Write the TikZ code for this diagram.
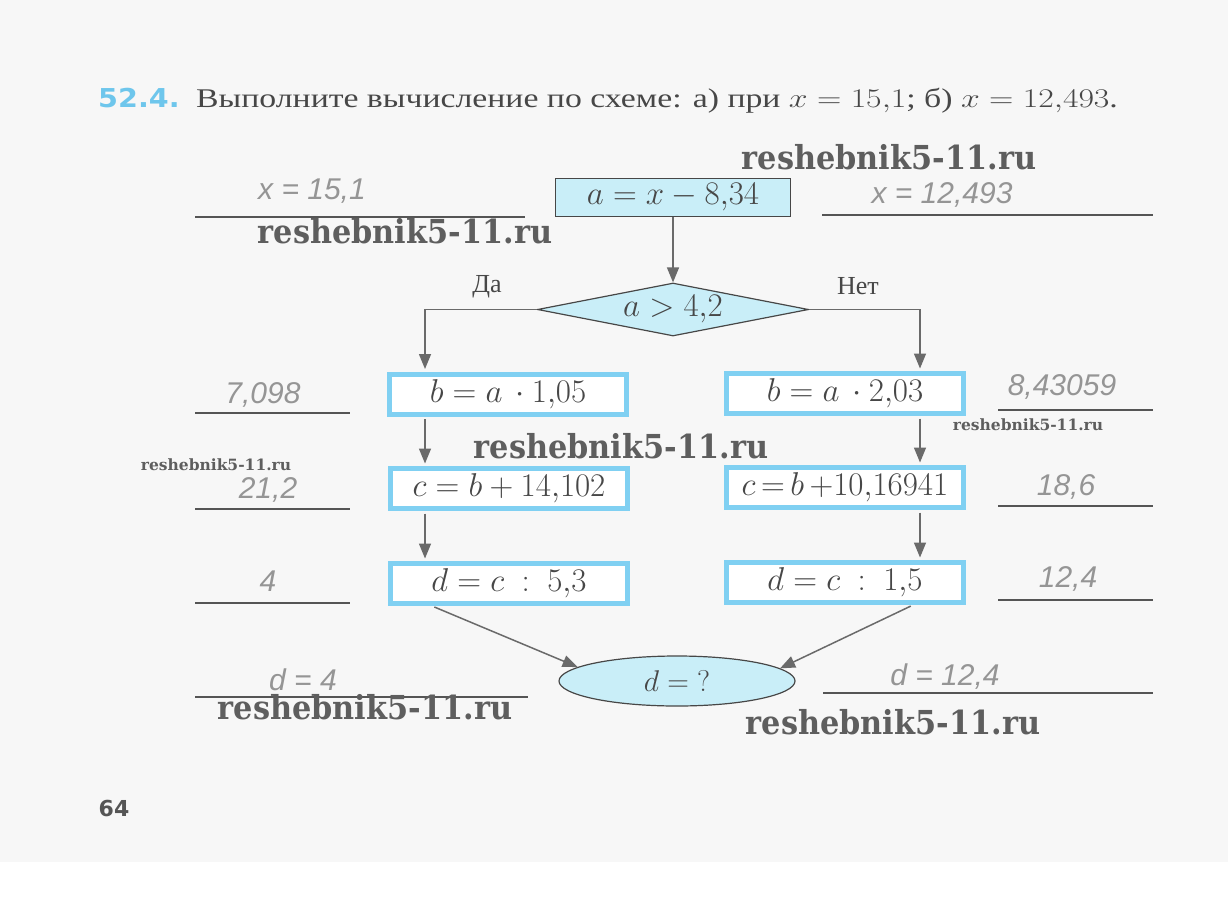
\RequirePackage{fix-cm}
\documentclass[tikz,border=0pt]{standalone}
\usepackage{graphicx}
\usepackage[no-math]{fontspec}
\setmainfont{Liberation Serif}
\newfontfamily\handfont{Liberation Sans}
\newfontfamily\sansbold{DejaVu Sans}
\newfontfamily\wmfont{DejaVu Serif}
\usetikzlibrary{shapes.geometric,arrows.meta,calc}
\definecolor{pagebg}{HTML}{F7F7F7}
\definecolor{cyanfill}{HTML}{C9EEF8}
\definecolor{boxblue}{HTML}{80D0F2}
\definecolor{ink}{HTML}{474747}
\definecolor{arrowgray}{HTML}{6A6A6A}
\definecolor{handgray}{HTML}{959595}
\definecolor{marker}{HTML}{6EC6EC}
\definecolor{wmgray}{HTML}{5E5E5E}
\definecolor{linegray}{HTML}{555555}
\begin{document}
\begin{tikzpicture}[x=1pt,y=-1pt,
  formula/.style={font=\fontsize{33}{36}\selectfont, text=ink},
  topbox/.style={draw=ink, line width=1.2pt, fill=cyanfill, minimum width=235pt, minimum height=38pt, inner sep=0pt, formula},
  calcbox/.style={draw=boxblue, line width=5pt, fill=white, minimum width=237pt, minimum height=40pt, inner sep=0pt, formula},
  decision/.style={draw=ink, line width=1.2pt, fill=cyanfill, diamond, aspect=5.1, minimum width=271pt, minimum height=53pt, inner sep=0pt, formula},
  result/.style={draw=ink, line width=1.2pt, fill=cyanfill, ellipse, minimum width=236pt, minimum height=50pt, inner sep=0pt, font=\fontsize{30}{32}\selectfont, text=ink},
  arr/.style={draw=arrowgray, line width=1.5pt, -{Triangle[length=15pt,width=12pt]}},
  ansline/.style={draw=linegray, line width=1.1pt},
  hand/.style={font=\handfont\itshape\fontsize{30}{32}\selectfont, text=handgray, inner sep=0pt},
  label/.style={font=\fontsize{26}{30}\selectfont, text=ink, inner sep=0pt},
  wmbig/.style={font=\wmfont\bfseries\fontsize{33}{35}\selectfont, text=wmgray, inner sep=0pt},
  wmsmall/.style={font=\wmfont\bfseries\fontsize{15.5}{17}\selectfont, text=wmgray, inner sep=0pt}
]
\useasboundingbox (0,0) rectangle (1228,897);
\fill[pagebg] (0,0) rectangle (1228,862);
\fill[white] (0,862) rectangle (1228,897);

% title
\node[anchor=base west, inner sep=0pt, font=\sansbold\bfseries\fontsize{26}{28}\selectfont, text=marker] (num) at (98,107) {\scalebox{1.1}[1]{52.4.}};
\node[anchor=base west, inner sep=0pt, font=\fontsize{27}{30}\selectfont, text=ink] (title) at (196,107)
  {\scalebox{1.25}[1]{Выполните вычисление по схеме: а) при $x = 15{,}1$; б) $x = 12{,}493$.}};

% flowchart
\node[topbox] (a) at (673,197.5) {$a = x - 8{,}34$};
\node[decision] (dia) at (673,309.5) {$a > 4{,}2$};
\node[calcbox] (b1) at (508,394) {$b = a\,\cdot 1{,}05$};
\node[calcbox] (b2) at (845,393.5) {$b = a\,\cdot 2{,}03$};
\node[calcbox] (c1) at (509,488.5) {$c = b + 14{,}102$};
\node[calcbox] (c2) at (845,487.5) {$c\,{=}\,b\,{+}10{,}16941$};
\node[calcbox] (d1) at (509,583.5) {$d = c\ :\ 5{,}3$};
\node[calcbox] (d2) at (845,582.5) {$d = c\ :\ 1{,}5$};
\node[result] (res) at (677,681) {$d = {?}$};

\node[label] (yes) at (487,287) {Да};
\node[label] (no) at (858,286) {Нет};

\draw[arr] (a.south) -- (dia.north);
\draw[arr, shorten >=2.5pt] (dia.west) -| ($(b1.north)+(-83,0)$);
\draw[arr, shorten >=2.5pt] (dia.east) -| ($(b2.north)+(75,0)$);
\draw[arr, shorten <=2.5pt, shorten >=2.5pt] ($(b1.south)+(-83,0)$) -- ($(c1.north)+(-84,0)$);
\draw[arr, shorten <=2.5pt, shorten >=2.5pt] ($(b2.south)+(75,0)$) -- ($(c2.north)+(75,0)$);
\draw[arr, shorten <=2.5pt, shorten >=2.5pt] ($(c1.south)+(-84,0)$) -- ($(d1.north)+(-84,0)$);
\draw[arr, shorten <=2.5pt, shorten >=2.5pt] ($(c2.south)+(75,0)$) -- ($(d2.north)+(75,0)$);
\draw[arr, shorten <=2.5pt] ($(d1.south)+(-77,0)$) -- (res.172);
\draw[arr, shorten <=2.5pt] ($(d2.south)+(68,0)$) -- (res.7);

% answer lines
\draw[ansline] (195,217) -- (525,217);
\draw[ansline] (822,215) -- (1153,215);
\draw[ansline] (195,413) -- (350,413);
\draw[ansline] (195,509) -- (350,509);
\draw[ansline] (195,603) -- (350,603);
\draw[ansline] (195,697) -- (528,697);
\draw[ansline] (998,410) -- (1153,410);
\draw[ansline] (998,506) -- (1153,506);
\draw[ansline] (998,600) -- (1153,600);
\draw[ansline] (823,693) -- (1153,693);

% handwritten answers
\node[hand] (h1) at (312,191) {x = 15,1};
\node[hand] (h2) at (942,195) {x = 12,493};
\node[hand] (h3) at (263,395) {7,098};
\node[hand] (h4) at (268,490) {21,2};
\node[hand] (h5) at (268,581) {4};
\node[hand] (h6) at (303,680) {d = 4};
\node[hand] (h7) at (1062,387) {8,43059};
\node[hand] (h8) at (1066,487) {18,6};
\node[hand] (h9) at (1068,579) {12,4};
\node[hand] (h10) at (945,677) {d = 12,4};

% watermarks
\node[wmbig] (w1) at (889,157) {\scalebox{0.92}[1]{reshebnik5-11.ru}};
\node[wmbig] (w2) at (405,231) {\scalebox{0.92}[1]{reshebnik5-11.ru}};
\node[wmbig] (w3) at (621,446) {\scalebox{0.92}[1]{reshebnik5-11.ru}};
\node[wmbig] (w4) at (365,707) {\scalebox{0.92}[1]{reshebnik5-11.ru}};
\node[wmbig] (w5) at (893,722) {\scalebox{0.92}[1]{reshebnik5-11.ru}};
\node[wmsmall] (w6) at (216,465) {reshebnik5-11.ru};
\node[wmsmall] (w7) at (1028,425) {reshebnik5-11.ru};

% page number
\node[font=\sansbold\bfseries\fontsize{22}{24}\selectfont, text=linegray, inner sep=0pt] (page) at (114,808) {64};
\end{tikzpicture}
\end{document}
